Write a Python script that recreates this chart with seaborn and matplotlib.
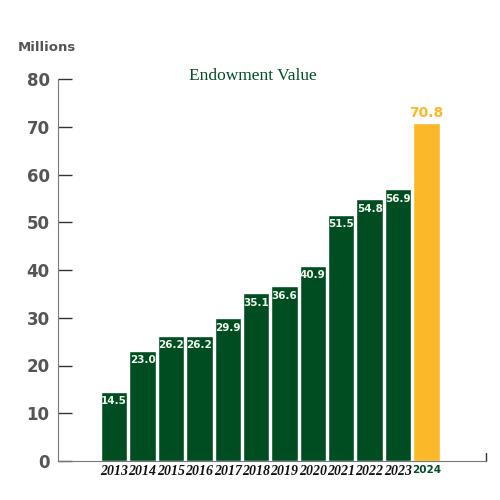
import pandas as pd
import matplotlib.pyplot as plt
import seaborn as sns

years = ["2013", "2014", "2015", "2016", "2017", "2018", "2019", "2020", "2021", "2022", "2023", "2024"]
values = [14.5, 23.0, 26.2, 26.2, 29.9, 35.1, 36.6, 40.9, 51.5, 54.8, 56.9, 70.8]
yticks = [0, 10, 20, 30, 40, 50, 60, 70, 80]

green = "#004d22"
gold = "#fbb829"
grey = "#555555"

df = pd.DataFrame({"Year": years, "Value": values})
palette = {y: (gold if y == "2024" else green) for y in years}

sns.set_style("white")
fig = plt.figure(figsize=(5, 5), dpi=100)
ax = fig.add_axes([0.116, 0.078, 0.856, 0.764])

sns.barplot(data=df, x="Year", y="Value", hue="Year", palette=palette,
            width=0.93, saturation=1, legend=False, ax=ax)

ax.set_ylim(0, 80)
ax.set_xlim(-1.98, 13.1)
ax.set_yticks(yticks)
ax.set_yticklabels([str(t) for t in yticks], fontsize=12, fontweight="bold", color=grey)
ax.tick_params(axis="y", left=True, direction="in", length=10, width=1, color="#333333", pad=6)
ax.tick_params(axis="x", bottom=False, length=0, pad=3)
for s in ["top", "right"]:
    ax.spines[s].set_visible(False)
ax.spines["left"].set_color("#777777")
ax.spines["bottom"].set_color("#777777")
ax.set_xlabel("")
ax.set_ylabel("")

# year labels: serif italic for older years, bold green for the latest
ax.set_xticks(range(len(years)))
ax.set_xticklabels(years)
for lbl in ax.get_xticklabels():
    if lbl.get_text() == "2024":
        lbl.set_fontsize(7.5)
        lbl.set_fontweight("bold")
        lbl.set_color(green)
    else:
        lbl.set_family("Liberation Serif")
        lbl.set_style("italic")
        lbl.set_fontweight("bold")
        lbl.set_fontsize(10)
        lbl.set_color("#111111")

# value labels
for i, v in enumerate(values):
    if years[i] == "2024":
        ax.text(i, v + 0.6, f"{v:.1f}", ha="center", va="bottom",
                fontsize=10, fontweight="bold", color=gold)
    else:
        ax.text(i, v - 0.9, f"{v:.1f}", ha="center", va="top",
                fontsize=7.5, fontweight="bold", color="#eef5ee")

ax.axvline(13.1, ymin=0, ymax=0.022, color="#333333", lw=1, clip_on=False)

fig.text(0.036, 0.898, "Millions", fontsize=9.5, fontweight="bold", color=grey)
fig.text(0.505, 0.848, "Endowment Value", fontsize=12.5, family="Liberation Serif",
         color=green, ha="center", va="center")

fig.savefig("out.png", dpi=100)
